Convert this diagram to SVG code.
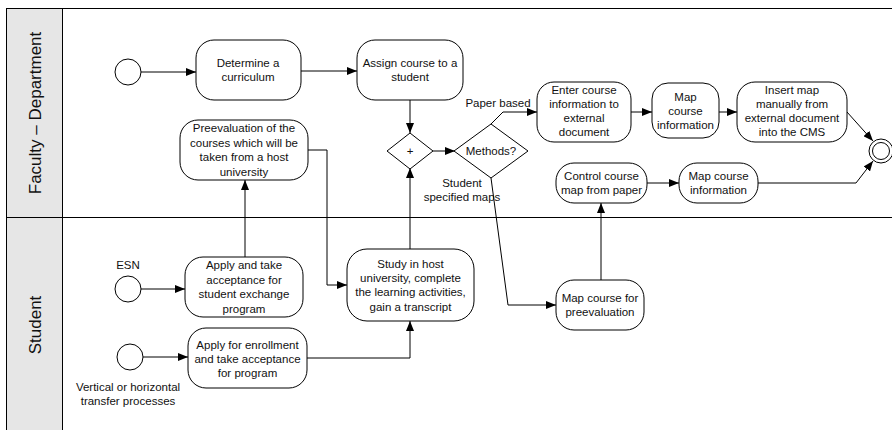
<svg xmlns="http://www.w3.org/2000/svg" width="892" height="430" viewBox="0 0 892 430">
<defs>
<marker id="ah" viewBox="0 0 10 8" refX="10" refY="4" markerWidth="10" markerHeight="8" markerUnits="userSpaceOnUse" orient="auto">
<path d="M0,0 L10,4 L0,8 Z" fill="#000"/>
</marker>
</defs>
<style>
.n{fill:#fff;stroke:#000;stroke-width:1}
.t{font-family:"Liberation Sans",Arial,sans-serif;font-size:11.5px;fill:#111;text-anchor:middle}
.h{font-family:"Liberation Sans",Arial,sans-serif;font-size:17px;fill:#111;text-anchor:middle}
.c{fill:none;stroke:#000;stroke-width:1;marker-end:url(#ah)}
.l{fill:none;stroke:#000;stroke-width:1}
</style>
<rect width="892" height="430" fill="#fff"/>
<g id="pool">
<rect x="6.5" y="8.5" width="56" height="430" fill="#e6e6e6" stroke="#000"/>
<rect x="6.5" y="8.5" width="900" height="430" fill="none" stroke="#000"/>
<line x1="6.5" y1="217.5" x2="892" y2="217.5" stroke="#000"/>
<text class="h" transform="translate(41,113) rotate(-90)">Faculty – Department</text>
<text class="h" transform="translate(41,325) rotate(-90)">Student</text>
</g>
<g id="connectors">
<path class="c" d="M141,72 H196"/>
<path class="c" d="M301,71 H357"/>
<path class="c" d="M410,100 V133"/>
<path class="c" d="M433,151 H455"/>
<path class="c" d="M491,124 L503,112 H537"/>
<path class="l" d="M491,178 L508,305"/>
<path class="c" d="M508,305 H556"/>
<path class="c" d="M631,112 H652"/>
<path class="c" d="M719,112 H737"/>
<path class="c" d="M847,112 L873,141"/>
<path class="c" d="M601,280 V203"/>
<path class="c" d="M647,183 H679"/>
<path class="c" d="M758,183 H856 L873,161"/>
<path class="c" d="M245,257 V180"/>
<path class="c" d="M308,150 H327 V285 H347"/>
<path class="c" d="M410,249 V168"/>
<path class="c" d="M141,289 H185"/>
<path class="c" d="M143,357 H188"/>
<path class="c" d="M307,358 H410 V321"/>
<text class="t" x="498" y="107">Paper based</text>
<text class="t" x="462" y="187">Student</text>
<text class="t" x="462" y="201">specified maps</text>
</g>
<g id="start1"><circle class="n" cx="128" cy="72" r="13"/></g>
<g id="start2"><circle class="n" cx="128" cy="289" r="13"/><text class="t" x="128" y="269">ESN</text></g>
<g id="start3"><circle class="n" cx="130" cy="357" r="13"/><text class="t" x="128" y="391">Vertical or horizontal</text><text class="t" x="128" y="405">transfer processes</text></g>
<g id="end"><circle class="n" cx="881" cy="151" r="12"/><circle class="n" cx="881" cy="151" r="8.5"/></g>
<g id="determine"><rect class="n" x="196" y="40" width="105" height="60" rx="18"/><text class="t" x="248" y="67">Determine a</text><text class="t" x="248" y="81">curriculum</text></g>
<g id="assign"><rect class="n" x="357" y="40" width="106" height="60" rx="18"/><text class="t" x="410" y="67">Assign course to a</text><text class="t" x="410" y="81">student</text></g>
<g id="gateway"><path class="n" d="M410,133 L433,151 L410,169 L387,151 Z"/><text class="t" x="410" y="155">+</text></g>
<g id="methods"><path class="n" d="M491,124 L528,151 L491,178 L454,151 Z"/><text class="t" x="491" y="155">Methods?</text></g>
<g id="enter"><rect class="n" x="537" y="82" width="94" height="60" rx="17"/><text class="t" x="584" y="94">Enter course</text><text class="t" x="584" y="108">information to</text><text class="t" x="584" y="122">external</text><text class="t" x="584" y="136">document</text></g>
<g id="mapinfo1"><rect class="n" x="652" y="83" width="67" height="55" rx="16"/><text class="t" x="685.5" y="101">Map</text><text class="t" x="685.5" y="115">course</text><text class="t" x="685.5" y="129">information</text></g>
<g id="insert"><rect class="n" x="737" y="82" width="110" height="60" rx="18"/><text class="t" x="792" y="94">Insert map</text><text class="t" x="792" y="108">manually from</text><text class="t" x="792" y="122">external document</text><text class="t" x="792" y="136">into the CMS</text></g>
<g id="control"><rect class="n" x="556" y="163" width="91" height="40" rx="18"/><text class="t" x="601.5" y="180">Control course</text><text class="t" x="601.5" y="194">map from paper</text></g>
<g id="mapinfo2"><rect class="n" x="679" y="163" width="79" height="40" rx="18"/><text class="t" x="718.5" y="180">Map course</text><text class="t" x="718.5" y="194">information</text></g>
<g id="mappre"><rect class="n" x="556" y="280" width="88" height="50" rx="18"/><text class="t" x="600" y="302">Map course for</text><text class="t" x="600" y="316">preevaluation</text></g>
<g id="preeval"><rect class="n" x="180" y="120" width="128" height="60" rx="18"/><text class="t" x="244" y="132">Preevaluation of the</text><text class="t" x="244" y="146.5">courses which will be</text><text class="t" x="244" y="161">taken from a host</text><text class="t" x="244" y="175.5">university</text></g>
<g id="study"><rect class="n" x="347" y="249" width="127" height="72" rx="20"/><text class="t" x="410.5" y="268">Study in host</text><text class="t" x="410.5" y="282">university, complete</text><text class="t" x="410.5" y="296">the learning activities,</text><text class="t" x="410.5" y="311">gain a transcript</text></g>
<g id="applyx"><rect class="n" x="185" y="257" width="118" height="60" rx="18"/><text class="t" x="244" y="269">Apply and take</text><text class="t" x="244" y="284">acceptance for</text><text class="t" x="244" y="298">student exchange</text><text class="t" x="244" y="313">program</text></g>
<g id="applye"><rect class="n" x="188" y="328" width="119" height="60" rx="18"/><text class="t" x="247.5" y="349">Apply for enrollment</text><text class="t" x="247.5" y="363">and take acceptance</text><text class="t" x="247.5" y="377">for program</text></g>
</svg>
